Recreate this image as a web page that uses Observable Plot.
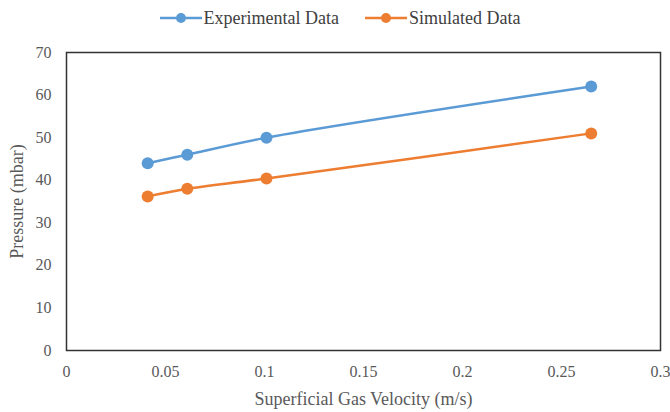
<!DOCTYPE html>
<html><head><meta charset="utf-8">
<script src="https://cdn.jsdelivr.net/npm/d3@7"></script>
<script src="https://cdn.jsdelivr.net/npm/@observablehq/plot@0.6"></script>
<style>
body{margin:0;background:#fff;font-family:"Liberation Serif","Times New Roman",serif;}
#legend{height:36px;display:flex;justify-content:center;align-items:center;gap:26px;font-size:18px;color:#404040;padding-left:10px;box-sizing:border-box;width:670px;}
.item{display:flex;align-items:center;gap:2px;}
#chart svg, #chart svg text{font-family:"Liberation Serif","Times New Roman",serif !important;}
</style></head><body><div id="legend"></div><div id="chart"></div>
<script>
const velocity = [0.041, 0.061, 0.101, 0.265];
const experimental = [44, 46, 50, 62];
const simulated = [36.2, 38, 40.4, 51];
const seriesNames = ["Experimental Data", "Simulated Data"];
const seriesColors = ["#5B9BD5", "#ED7D31"];
const xTicks = [0, 0.05, 0.1, 0.15, 0.2, 0.25, 0.3];
const yTicks = [0, 10, 20, 30, 40, 50, 60, 70];

const rows = [];
[experimental, simulated].forEach((vals, s) => {
  vals.forEach((v, i) => rows.push({series: seriesNames[s], x: velocity[i], y: v}));
});

const legend = document.getElementById("legend");
seriesNames.forEach((n, i) => {
  const it = document.createElement("div");
  it.className = "item";
  it.innerHTML = `<svg width="42" height="12"><line x1="0" x2="42" y1="6" y2="6" stroke="${seriesColors[i]}" stroke-width="2.5"/><circle cx="21" cy="6" r="5" fill="${seriesColors[i]}"/></svg><span>${n}</span>`;
  legend.appendChild(it);
});

const serif = "Liberation Serif";
const chart = Plot.plot({
  width: 670,
  height: 376,
  marginTop: 16,
  marginBottom: 62,
  marginLeft: 66,
  marginRight: 10,
  style: {fontFamily: serif, fontSize: "16px", color: "#595959", background: "#fff"},
  x: {domain: [0, 0.3]},
  y: {domain: [0, 70]},
  color: {domain: seriesNames, range: seriesColors},
  marks: [
    Plot.axisX({ticks: xTicks, tickSize: 0, tickPadding: 15, tickFormat: d => String(d), label: null, fontFamily: serif, fontSize: 16}),
    Plot.axisX({ticks: [], tickSize: 0, label: "Superficial Gas Velocity (m/s)", labelAnchor: "center", labelArrow: "none", labelOffset: 54, fontFamily: serif, fontSize: 18}),
    Plot.axisY({ticks: yTicks, tickSize: 0, tickPadding: 15, label: null, fontFamily: serif, fontSize: 16}),
    Plot.axisY({ticks: [], tickSize: 0, label: "Pressure (mbar)", labelAnchor: "center", labelArrow: "none", labelOffset: 56, fontFamily: serif, fontSize: 18}),
    Plot.line(rows, {x: "x", y: "y", z: "series", stroke: "series", strokeWidth: 2.5, curve: "catmull-rom"}),
    Plot.dot(rows, {x: "x", y: "y", fill: "series", r: 6}),
    Plot.frame({stroke: "#333", strokeWidth: 1.5})
  ]
});
document.getElementById("chart").appendChild(chart);
</script>
</body></html>
